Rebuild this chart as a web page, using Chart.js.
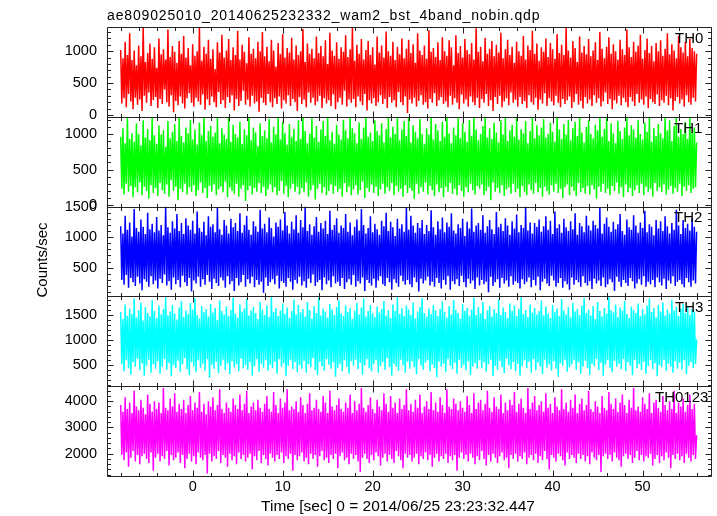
<!DOCTYPE html>
<html>
<head>
<meta charset="utf-8">
<script src="https://cdn.jsdelivr.net/npm/chart.js@4"></script>
<style>
  body { margin: 0; background: #fff; }
  #wrap { width: 717px; height: 516px; position: relative; }
</style>
</head>
<body>
<div id="wrap"><canvas id="chart" width="717" height="516"></canvas></div>
<script>
// time bins: start and width of the light curve (sec)
var tStart = -8;
var binSize = 0.125;

var panelNames = ['TH0', 'TH1', 'TH2', 'TH3', 'TH0123'];
var panelColors = ['#ff0000', '#00ff00', '#0000ff', '#00ffff', '#ff00ff'];
var panelMin = [-30, -20, 30, 80, 1150];
var panelMax = [1380, 1240, 1500, 1870, 4570];
var panelStep = [500, 500, 500, 500, 1000];
var panelMinor = [100, 100, 100, 100, 200];
var yTickValues = [
  [0, 500, 1000],
  [0, 500, 1000],
  [500, 1000, 1500],
  [500, 1000, 1500],
  [2000, 3000, 4000]
];
var xTickValues = [0, 10, 20, 30, 40, 50];

var th0 = [
  1020, 180, 890, 260, 1150, 120, 940, 330, 1280, 210, 860, 90, 1010, 270, 780, 160,
  1090, 240, 920, 60, 1380, 300, 830, 190, 970, 350, 1120, 140, 880, 230, 1060, 280,
  740, 110, 1200, 250, 950, 170, 1030, 400, 870, 200, 1340, 130, 910, 310, 1080, 40,
  990, 220, 820, 150, 1160, 290, 960, 180, 1240, 100, 900, 260, 1050, 340, 780, 190,
  1110, 130, 930, 270, 1000, 210, 1380, 160, 850, 320, 1070, 80, 960, 240, 1180, 150,
  880, 290, 1030, 200, 720, 120, 1140, 360, 980, 170, 1260, 230, 900, 110, 1010, 280,
  1190, 190, 860, 310, 1060, 70, 940, 250, 1320, 140, 870, 220, 1100, 380, 990, 160,
  810, 240, 1220, 130, 960, 300, 1040, 180, 890, 210, 1150, 50, 1000, 270, 1300, 190,
  920, 150, 1070, 330, 840, 200, 1180, 120, 1010, 260, 760, 170, 1130, 290, 950, 100,
  1270, 230, 900, 180, 1050, 310, 980, 140, 1210, 250, 870, 200, 1090, 60, 940, 280,
  1000, 170, 1350, 240, 830, 120, 1120, 350, 960, 190, 1040, 270, 890, 150, 1230, 210,
  970, 300, 1080, 110, 920, 260, 1170, 180, 800, 230, 1290, 140, 1010, 320, 930, 90,
  1140, 200, 880, 270, 1060, 160, 990, 380, 1250, 130, 910, 240, 1030, 190, 1380, 250,
  850, 120, 1100, 290, 960, 210, 1190, 150, 870, 330, 1020, 70, 1160, 230, 940, 180,
  1060, 260, 790, 140, 1230, 200, 980, 310, 1090, 170, 900, 250, 1310, 110, 1000, 280,
  930, 190, 1150, 230, 860, 120, 1070, 360, 950, 200, 1200, 150, 890, 290, 1040, 30,
  1180, 240, 970, 180, 1110, 270, 820, 130, 1280, 220, 1010, 310, 940, 160, 1090, 200,
  880, 100, 1330, 250, 990, 190, 1050, 340, 910, 140, 1140, 230, 860, 280, 1220, 170,
  1000, 210, 930, 120, 1170, 300, 1060, 160, 780, 260, 1250, 190, 970, 90, 1080, 320,
  900, 180, 1190, 240, 1020, 130, 950, 290, 1130, 200, 870, 150, 1360, 270, 990, 110,
  1070, 250, 840, 190, 1210, 330, 960, 140, 1040, 230, 1160, 60, 920, 280, 1100, 170,
  980, 300, 1290, 120, 890, 210, 1030, 260, 1180, 150, 940, 350, 1070, 190, 820, 240,
  1150, 130, 1000, 280, 930, 170, 1240, 220, 870, 110, 1090, 310, 1020, 200, 1320, 160,
  960, 270, 1120, 80, 850, 240, 1060, 180, 990, 340, 1200, 140, 910, 260, 1130, 210,
  1030, 150, 880, 300, 1270, 190, 970, 120, 1100, 250, 940, 170, 1380, 230, 1010, 290,
  900, 110, 1160, 200, 1050, 330, 830, 160, 1230, 220, 980, 100, 1080, 280, 950, 180,
  1190, 240, 920, 140, 1010, 310, 1140, 190, 860, 260, 1300, 130, 1040, 210, 890, 350,
  1070, 170, 1220, 250, 960, 90, 1110, 230, 1000, 180, 870, 300, 1180, 150, 1030, 270,
  940, 200, 1340, 120, 1060, 280, 910, 210, 1150, 140, 990, 330, 1090, 190, 1260, 240,
  880, 160, 1020, 290, 1200, 110, 970, 250, 1080, 200, 840, 170, 1130, 320, 1000, 140,
  1170, 230, 930, 190, 1040, 300, 1280, 150, 950, 260, 1110, 70, 1010, 220, 890, 280,
  1240, 180, 1060, 240, 980, 130, 1150, 310, 920, 200, 1190, 160, 1050, 270, 1000, 210,
  960
];
var th1 = [
  960, 230, 1080, 150, 870, 300, 1240, 190, 930, 270, 1010, 110, 890, 250, 1150, 180,
  1000, 320, 840, 140, 1190, 260, 950, 200, 1070, 90, 910, 280, 1240, 170, 980, 240,
  860, 130, 1120, 310, 990, 210, 1050, 160, 820, 290, 1180, 120, 940, 350, 1030, 200,
  1140, 260, 900, 70, 1240, 230, 970, 180, 880, 300, 1090, 150, 1010, 250, 1200, 190,
  920, 280, 1060, 130, 850, 210, 1160, 320, 980, 170, 1240, 240, 900, 100, 1040, 270,
  1110, 190, 960, 290, 1020, 140, 1230, 220, 870, 260, 1080, 180, 990, 330, 930, 110,
  1240, 250, 890, 200, 1130, 160, 1000, 300, 950, 120, 1170, 230, 860, 280, 1060, 60,
  980, 210, 1240, 270, 910, 150, 1090, 240, 1020, 190, 830, 310, 1150, 170, 970, 260,
  1050, 130, 940, 220, 1210, 290, 880, 180, 1100, 250, 990, 140, 1240, 200, 920, 340,
  1170, 160, 1010, 270, 850, 110, 1140, 230, 960, 300, 1070, 190, 900, 260, 1190, 150,
  930, 240, 1240, 180, 1040, 320, 870, 120, 1000, 210, 1220, 280, 950, 80, 1110, 230,
  890, 300, 1060, 170, 1180, 250, 970, 140, 1240, 200, 910, 290, 1030, 160, 860, 270,
  1130, 190, 990, 230, 920, 120, 1200, 310, 1050, 180, 940, 260, 1240, 140, 1080, 220,
  1010, 280, 870, 150, 1160, 210, 930, 330, 1090, 100, 1240, 240, 960, 190, 1020, 290,
  900, 170, 1190, 260, 1040, 130, 980, 220, 1150, 300, 880, 160, 1070, 250, 1240, 200,
  950, 310, 1100, 140, 1000, 270, 1230, 190, 910, 230, 1060, 120, 1180, 280, 970, 170,
  1240, 240, 880, 200, 1120, 90, 1030, 300, 940, 160, 1210, 250, 1000, 190, 860, 320,
  1080, 150, 990, 270, 1240, 210, 920, 130, 1140, 290, 1050, 180, 900, 240, 1170, 110,
  960, 260, 1240, 190, 1010, 310, 870, 160, 1090, 230, 980, 140, 1220, 280, 940, 200,
  1150, 120, 1030, 250, 890, 180, 1200, 300, 970, 210, 1240, 150, 1060, 270, 910, 230,
  1000, 290, 1110, 140, 1240, 200, 950, 260, 1080, 70, 930, 320, 1160, 190, 1020, 240,
  880, 170, 1190, 280, 990, 130, 1240, 220, 900, 250, 1050, 160, 1130, 300, 960, 180,
  1240, 230, 920, 110, 1070, 270, 1010, 190, 1180, 140, 870, 290, 1040, 210, 1240, 160,
  940, 310, 1120, 180, 980, 240, 1090, 120, 1210, 260, 950, 200, 1000, 150, 1160, 280,
  1030, 190, 890, 300, 1240, 170, 1060, 230, 930, 100, 1140, 250, 990, 290, 1200, 140,
  910, 260, 1080, 200, 1170, 130, 970, 310, 1240, 180, 1020, 240, 880, 160, 1100, 270,
  1190, 150, 1000, 280, 940, 220, 1130, 90, 1050, 260, 1240, 190, 960, 300, 1070, 170,
  1240, 230, 900, 140, 1150, 270, 1010, 200, 870, 320, 1180, 160, 1040, 250, 930, 110,
  1090, 290, 1240, 180, 980, 240, 1120, 130, 1060, 210, 950, 280, 1200, 170, 1000, 300,
  920, 140, 1160, 260, 1030, 190, 1240, 230, 890, 120, 1080, 310, 970, 200, 1140, 250,
  1010, 180, 940, 290, 1240, 150, 1050, 220, 1190, 270, 900, 160, 1110, 240, 1240, 190,
  960, 300, 1070, 130, 1000, 260, 1170, 200, 930, 280, 1240, 170, 1020, 230, 1090, 250,
  880
];
var th2 = [
  1180, 300, 1060, 220, 1350, 380, 1120, 170, 1240, 330, 1010, 260, 1460, 200, 1150, 350,
  1090, 240, 1290, 130, 1170, 310, 1050, 270, 1400, 190, 1130, 360, 1220, 230, 1080, 290,
  1330, 160, 1110, 320, 1200, 250, 1030, 390, 1500, 210, 1160, 280, 1070, 140, 1260, 340,
  1140, 230, 1380, 300, 1100, 180, 1230, 370, 1050, 260, 1310, 200, 1190, 330, 1120, 110,
  1270, 290, 1060, 240, 1420, 350, 1150, 190, 1090, 310, 1250, 220, 1030, 380, 1340, 270,
  1170, 150, 1210, 320, 1080, 250, 1480, 200, 1130, 340, 1040, 290, 1280, 170, 1190, 360,
  1060, 230, 1300, 280, 1160, 120, 1230, 330, 1100, 210, 1390, 260, 1070, 380, 1200, 190,
  1350, 310, 1120, 240, 1040, 350, 1260, 180, 1180, 300, 1090, 220, 1450, 270, 1140, 90,
  1220, 340, 1080, 200, 1320, 260, 1150, 310, 1010, 230, 1240, 370, 1170, 160, 1290, 280,
  1110, 250, 1410, 190, 1190, 330, 1060, 270, 1250, 140, 1130, 300, 1360, 240, 1070, 350,
  1280, 210, 1160, 280, 1500, 170, 1100, 320, 1210, 250, 1040, 390, 1180, 200, 1330, 260,
  1090, 300, 1230, 130, 1140, 340, 1270, 230, 1050, 290, 1430, 180, 1120, 360, 1200, 240,
  1310, 270, 1070, 200, 1190, 330, 1150, 150, 1380, 260, 1090, 310, 1240, 220, 1030, 380,
  1170, 190, 1290, 280, 1110, 240, 1460, 340, 1200, 120, 1060, 300, 1150, 250, 1340, 210,
  1080, 320, 1220, 170, 1130, 290, 1040, 360, 1270, 230, 1180, 200, 1400, 330, 1100, 260,
  1250, 140, 1160, 310, 1020, 250, 1300, 190, 1140, 370, 1210, 280, 1090, 220, 1490, 300,
  1120, 230, 1350, 180, 1190, 340, 1070, 260, 1230, 110, 1150, 320, 1280, 240, 1050, 290,
  1200, 350, 1100, 210, 1440, 270, 1160, 190, 1040, 330, 1260, 250, 1130, 160, 1320, 300,
  1080, 220, 1240, 360, 1170, 140, 1390, 280, 1110, 230, 1060, 310, 1210, 200, 1150, 370,
  1300, 260, 1020, 180, 1250, 320, 1140, 240, 1470, 290, 1090, 150, 1190, 340, 1230, 210,
  1120, 300, 1360, 230, 1070, 270, 1180, 100, 1280, 350, 1130, 200, 1050, 260, 1410, 310,
  1160, 170, 1220, 330, 1100, 240, 1310, 290, 1190, 190, 1040, 360, 1260, 220, 1140, 280,
  1370, 250, 1080, 160, 1200, 310, 1150, 230, 1500, 270, 1110, 340, 1240, 180, 1060, 300,
  1230, 210, 1170, 350, 1290, 130, 1090, 270, 1180, 320, 1340, 240, 1120, 200, 1270, 370,
  1050, 290, 1420, 190, 1150, 250, 1210, 330, 1070, 170, 1300, 280, 1160, 230, 1100, 140,
  1260, 340, 1130, 220, 1390, 300, 1040, 260, 1230, 190, 1180, 360, 1080, 250, 1350, 210,
  1190, 280, 1110, 150, 1270, 320, 1200, 240, 1140, 290, 1480, 200, 1060, 340, 1220, 180,
  1320, 230, 1170, 310, 1090, 260, 1250, 120, 1130, 350, 1210, 270, 1380, 190, 1100, 300,
  1040, 250, 1290, 200, 1160, 330, 1120, 280, 1360, 160, 1190, 240, 1070, 310, 1240, 220,
  1150, 360, 1430, 190, 1080, 270, 1210, 230, 1170, 300, 1030, 180, 1280, 340, 1140, 260,
  1260, 210, 1100, 320, 1340, 150, 1180, 290, 1060, 240, 1230, 360, 1120, 200, 1450, 270,
  1190, 300, 1050, 230, 1280, 180, 1150, 330, 1220, 260, 1110, 190, 1310, 290, 1170, 240,
  1090
];
var th3 = [
  1560, 520, 1420, 380, 1710, 600, 1480, 440, 1630, 310, 1520, 560, 1830, 470, 1450, 630,
  1600, 400, 1750, 540, 1390, 290, 1660, 490, 1540, 610, 1470, 350, 1800, 520, 1580, 430,
  1440, 580, 1690, 330, 1510, 470, 1620, 620, 1860, 410, 1490, 540, 1570, 280, 1700, 500,
  1530, 450, 1410, 590, 1650, 370, 1780, 520, 1460, 640, 1590, 420, 1520, 300, 1740, 560,
  1610, 480, 1840, 360, 1500, 600, 1430, 450, 1680, 530, 1560, 390, 1620, 620, 1470, 250,
  1720, 510, 1550, 430, 1640, 570, 1400, 340, 1790, 490, 1580, 610, 1510, 400, 1670, 540,
  1480, 320, 1600, 580, 1850, 460, 1530, 520, 1450, 380, 1710, 630, 1570, 440, 1630, 500,
  1820, 410, 1490, 560, 1590, 290, 1660, 480, 1540, 620, 1420, 370, 1760, 530, 1610, 450,
  1500, 600, 1690, 390, 1460, 510, 1870, 440, 1560, 570, 1640, 330, 1480, 620, 1590, 470,
  1730, 540, 1520, 280, 1650, 490, 1440, 610, 1580, 420, 1810, 560, 1510, 360, 1700, 500,
  1550, 430, 1620, 590, 1470, 350, 1760, 520, 1600, 460, 1430, 640, 1680, 400, 1540, 300,
  1850, 570, 1490, 480, 1630, 390, 1570, 620, 1450, 510, 1720, 430, 1610, 560, 1500, 270,
  1660, 450, 1800, 530, 1530, 380, 1480, 600, 1690, 470, 1560, 330, 1640, 580, 1420, 490,
  1590, 610, 1740, 420, 1510, 550, 1650, 310, 1830, 500, 1470, 620, 1580, 440, 1700, 380,
  1530, 520, 1460, 600, 1670, 350, 1550, 480, 1620, 560, 1780, 410, 1490, 640, 1600, 460,
  1440, 290, 1710, 530, 1580, 470, 1860, 390, 1520, 610, 1640, 500, 1480, 350, 1690, 570,
  1610, 430, 1500, 580, 1750, 460, 1430, 320, 1570, 620, 1660, 490, 1840, 410, 1540, 550,
  1470, 600, 1630, 380, 1520, 510, 1700, 440, 1590, 260, 1480, 570, 1620, 470, 1770, 530,
  1560, 360, 1450, 620, 1680, 490, 1510, 420, 1800, 550, 1600, 330, 1540, 610, 1430, 450,
  1720, 510, 1580, 400, 1640, 580, 1490, 300, 1610, 470, 1850, 540, 1500, 430, 1660, 600,
  1530, 440, 1760, 560, 1420, 370, 1590, 520, 1680, 610, 1470, 280, 1620, 490, 1540, 410,
  1810, 590, 1500, 460, 1650, 340, 1560, 630, 1440, 500, 1730, 420, 1580, 560, 1690, 380,
  1480, 530, 1620, 290, 1870, 480, 1520, 600, 1600, 440, 1460, 570, 1710, 350, 1550, 620,
  1640, 400, 1510, 550, 1580, 470, 1790, 320, 1490, 610, 1670, 450, 1530, 520, 1440, 390,
  1700, 580, 1560, 430, 1630, 270, 1480, 540, 1820, 490, 1590, 610, 1510, 370, 1660, 460,
  1450, 520, 1740, 600, 1570, 410, 1620, 560, 1500, 330, 1690, 470, 1840, 590, 1540, 440,
  1610, 310, 1490, 530, 1680, 480, 1420, 620, 1760, 400, 1580, 550, 1470, 290, 1640, 510,
  1530, 600, 1860, 450, 1600, 360, 1550, 590, 1710, 470, 1460, 530, 1650, 420, 1590, 620,
  1780, 380, 1520, 560, 1440, 490, 1670, 300, 1600, 610, 1540, 440, 1730, 520, 1480, 400,
  1620, 570, 1510, 330, 1690, 480, 1830, 600, 1560, 420, 1640, 540, 1450, 280, 1700, 500,
  1570, 460, 1750, 610, 1490, 390, 1610, 530, 1530, 470, 1800, 350, 1590, 580, 1660, 430,
  1480, 550, 1630, 410, 1720, 600, 1540, 320, 1680, 490, 1500, 560, 1620, 440, 1570, 520,
  1010
];
var th0123 = [
  3850, 1950, 3600, 1750, 4150, 2050, 3700, 1500, 3950, 1850, 3550, 2100, 4400, 1700, 3800, 1950,
  3650, 1600, 4050, 1900, 3750, 2000, 3500, 1800, 4250, 1650, 3900, 2050, 3600, 1350, 4000, 1850,
  3700, 2000, 3950, 1700, 3550, 1900, 4500, 1800, 3750, 2100, 3650, 1550, 4100, 1950, 3800, 1750,
  4300, 1850, 3600, 2050, 3900, 1650, 3700, 1950, 4050, 1450, 3550, 1800, 3850, 2000, 4200, 1700,
  3650, 1900, 3950, 1600, 3750, 2050, 4350, 1850, 3600, 1750, 3900, 1950, 3500, 1250, 4000, 2000,
  3800, 1700, 4150, 1900, 3650, 1800, 3850, 2100, 4450, 1650, 3700, 1950, 3550, 1850, 3950, 1500,
  3750, 2000, 3600, 1750, 4100, 1900, 3850, 1600, 3700, 2050, 4250, 1800, 3650, 1950, 3900, 1700,
  4400, 1850, 3550, 2000, 3800, 1400, 3950, 1900, 3650, 1750, 4050, 2100, 3750, 1650, 3600, 1950,
  3900, 1800, 4200, 1550, 3700, 2000, 3600, 1850, 4350, 1700, 3850, 1950, 3550, 1800, 4100, 2050,
  3750, 1650, 3950, 1900, 4450, 1800, 3650, 2000, 3800, 1350, 3700, 1950, 4000, 1750, 3600, 1900,
  4150, 2050, 3850, 1700, 3550, 1850, 3900, 1600, 4300, 2000, 3650, 1800, 3750, 1950, 4050, 1500,
  3700, 1900, 3600, 2100, 4200, 1750, 3950, 1850, 3550, 1650, 4400, 1950, 3800, 1800, 3650, 2000,
  3850, 1450, 4100, 1900, 3700, 2050, 3600, 1750, 3950, 1850, 3750, 1600, 4250, 2000, 3550, 1800,
  4000, 1950, 3650, 1700, 3900, 1300, 4500, 1850, 3750, 2000, 3600, 1800, 3850, 1650, 4150, 1950,
  3700, 1750, 3550, 2050, 4050, 1900, 3800, 1550, 3650, 1850, 4300, 2000, 3900, 1700, 3600, 1950,
  4200, 1800, 3750, 1650, 3950, 2100, 3550, 1900, 4100, 1750, 3700, 1450, 3850, 2000, 4450, 1850,
  3650, 1950, 3900, 1700, 3600, 1850, 4050, 2000, 3750, 1600, 4250, 1900, 3550, 1800, 3800, 2050,
  4000, 1750, 3700, 1950, 4350, 1500, 3650, 1850, 3950, 2000, 3600, 1700, 4150, 1900, 3850, 1800,
  3550, 2000, 4450, 1650, 3800, 1900, 3700, 1750, 4100, 1950, 3900, 1350, 3650, 1850, 4000, 2050,
  3750, 1800, 3600, 1950, 4200, 1700, 3850, 2000, 3550, 1850, 4300, 1600, 3700, 1900, 3950, 1750,
  4050, 2100, 3650, 1800, 3900, 1550, 4400, 1950, 3750, 1700, 3600, 2000, 4150, 1850, 3800, 1650,
  3700, 1900, 4250, 2050, 3550, 1750, 3950, 1850, 3650, 1450, 4050, 1950, 3850, 1800, 4350, 2000,
  3600, 1700, 3900, 1900, 4100, 1800, 3750, 2050, 3550, 1600, 4500, 1850, 3700, 1950, 3950, 1750,
  4200, 2000, 3650, 1650, 3850, 1900, 4000, 1750, 3600, 2100, 4300, 1800, 3750, 1400, 3900, 1950,
  3550, 1850, 4150, 1700, 3800, 2000, 3650, 1900, 4450, 1750, 3700, 1550, 3950, 2050, 3600, 1800,
  4050, 1950, 3750, 1850, 4250, 1650, 3550, 2000, 3900, 1800, 4100, 1950, 3650, 1700, 3850, 1900,
  4400, 1600, 3700, 2050, 3600, 1850, 4000, 1750, 3800, 1950, 3550, 1300, 4200, 1900, 3750, 2000,
  3650, 1800, 4350, 1950, 3900, 1700, 3700, 2050, 4100, 1850, 3600, 1750, 3950, 1500, 4250, 1900,
  3850, 2000, 3550, 1800, 4050, 1950, 3750, 1650, 4500, 1850, 3650, 2100, 3800, 1750, 3600, 1950,
  4150, 1700, 3900, 1900, 3700, 1850, 4300, 2000, 3550, 1550, 3950, 1800, 4050, 1950, 3750, 1650,
  3600, 1900, 4200, 1750, 3850, 2050, 3650, 1850, 4000, 1450, 3700, 1950, 4400, 1800, 3550, 2000,
  3950, 1750, 3800, 1900, 4100, 1650, 3600, 2000, 3850, 1850, 4250, 1700, 3700, 1950, 3900, 1800,
  2700
];
var series = [th0, th1, th2, th3, th0123];

var FONT = "'Liberation Sans', Arial, Helvetica, sans-serif";
Chart.defaults.font.family = FONT;
Chart.defaults.color = '#000';

var toPoints = function(vals) {
    return vals.map(function(v, i) {
        return {x: tStart + i * binSize, y: v};
    });
};

var datasets = series.map(function(vals, k) {
    return {
        label: panelNames[k],
        data: toPoints(vals),
        yAxisID: 'y' + k,
        borderColor: panelColors[k],
        borderWidth: 1.5,
        borderJoinStyle: 'miter',
        pointRadius: 0,
        tension: 0,
        fill: false
    };
});

var scales = {
    x: {
        type: 'linear',
        min: -9.52,
        max: 57.6,
        afterFit: function(s) { s.height = 40; },
        grid: {display: false, drawTicks: false},
        border: {display: false},
        afterBuildTicks: function(s) {
            s.ticks = xTickValues.map(function(v) { return {value: v}; });
        },
        ticks: {
            padding: 2,
            maxRotation: 0,
            autoSkip: false,
            font: {size: 14.5},
            callback: function(v) { return String(v); }
        }
    }
};
panelNames.forEach(function(name, k) {
    scales['y' + k] = {
        type: 'linear',
        position: 'left',
        stack: 'panels',
        stackWeight: 1,
        weight: 10 - k,
        min: panelMin[k],
        max: panelMax[k],
        afterFit: function(s) { s.width = 107; },
        afterBuildTicks: function(s) {
            s.ticks = yTickValues[k].map(function(v) { return {value: v}; });
        },
        grid: {display: false, drawTicks: false},
        border: {display: false},
        ticks: {
            autoSkip: false,
            padding: 10,
            font: {size: 14.5},
            callback: function(v) { return String(v); }
        }
    };
});

// frame, inward tick marks and texts in the qdp style
var qdpFrame = {
    id: 'qdpFrame',
    afterDatasetsDraw: function(chart) {
        var ctx = chart.ctx;
        var xs = chart.scales.x;
        var labelX = [675, 674, 674, 675, 655];
        ctx.save();
        ctx.strokeStyle = '#222';
        ctx.lineWidth = 1;
        panelNames.forEach(function(name, k) {
            var ys = chart.scales['y' + k];
            var l = Math.round(xs.left) + 0.5, r = Math.round(xs.right) + 0.5;
            var t = Math.round(ys.top) + 0.5, b = Math.round(ys.bottom) + 0.5;
            ctx.beginPath();
            ctx.rect(l, t, r - l, b - t);
            for (var v = Math.ceil(xs.min / 2) * 2; v <= xs.max; v += 2) {
                var px = Math.round(xs.getPixelForValue(v)) + 0.5;
                var len = (v % 10 === 0) ? 6 : 3.5;
                ctx.moveTo(px, t); ctx.lineTo(px, t + len);
                ctx.moveTo(px, b); ctx.lineTo(px, b - len);
            }
            var m = panelMinor[k];
            for (var w = Math.ceil(ys.min / m) * m; w <= ys.max; w += m) {
                var py = Math.round(ys.getPixelForValue(w)) + 0.5;
                var ln = (w % panelStep[k] === 0) ? 6 : 3.5;
                ctx.moveTo(l, py); ctx.lineTo(l + ln, py);
                ctx.moveTo(r, py); ctx.lineTo(r - ln, py);
            }
            ctx.stroke();

            ctx.fillStyle = '#000';
            ctx.font = '15px ' + FONT;
            ctx.textAlign = 'left';
            ctx.textBaseline = 'alphabetic';
            ctx.fillText(name, labelX[k], ys.top + 15.7);
        });

        ctx.fillStyle = '#000';
        ctx.font = '14px ' + FONT;
        ctx.textAlign = 'left';
        ctx.letterSpacing = '0.85px';
        ctx.fillText('ae809025010_20140625232332_wam2_bst_4band_nobin.qdp', 107, 20);
        ctx.letterSpacing = '0px';

        ctx.font = '15.5px ' + FONT;
        ctx.textAlign = 'center';
        ctx.fillText('Time [sec] 0 = 2014/06/25 23:23:32.447', 398, 511);

        ctx.font = '15px ' + FONT;
        ctx.translate(46.5, 260);
        ctx.rotate(-Math.PI / 2);
        ctx.fillText('Counts/sec', 0, 0);
        ctx.restore();
    }
};

new Chart(document.getElementById('chart'), {
    type: 'line',
    data: {datasets: datasets},
    options: {
        responsive: false,
        animation: false,
        events: [],
        layout: {padding: {left: 0, top: 27, right: 6, bottom: 0}},
        plugins: {
            legend: {display: false},
            tooltip: {enabled: false}
        },
        scales: scales
    },
    plugins: [qdpFrame]
});
</script>
</body>
</html>
